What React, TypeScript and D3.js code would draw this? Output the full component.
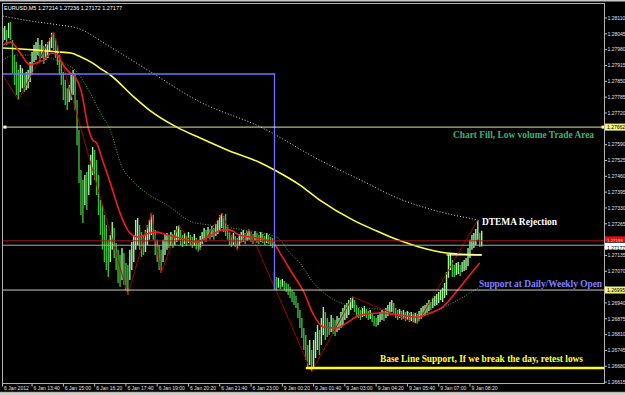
import React from "react";
import * as d3 from "d3";

// EURUSD M5 bars, index 1..246 (index 0 = 6 Jan 12:20)
const highs = [
  1.28069, 1.28077, 1.28061, 1.2809, 1.28094, 1.2802, 1.27958, 1.27929, 1.27897, 1.27917,
  1.27904, 1.27876, 1.27888, 1.27897, 1.27929, 1.2797, 1.27999, 1.28011, 1.28028, 1.27999,
  1.2802, 1.27995, 1.28003, 1.28011, 1.28028, 1.28049, 1.28053, 1.28028, 1.27999, 1.27958,
  1.27929, 1.27888, 1.27856, 1.27822, 1.27835, 1.27876, 1.27897, 1.27884, 1.27773, 1.2765,
  1.27486, 1.27445, 1.27465, 1.27478, 1.27507, 1.27548, 1.2758, 1.27568, 1.27527, 1.27465,
  1.27363, 1.27342, 1.27301, 1.2726, 1.27199, 1.27219, 1.27272, 1.27248, 1.27186, 1.27158,
  1.27137, 1.27166, 1.27145, 1.27104, 1.27096, 1.27158, 1.2719, 1.27219, 1.27281, 1.27289,
  1.2726, 1.27231, 1.27219, 1.2724, 1.2726, 1.27281, 1.27309, 1.27301, 1.2724, 1.27199,
  1.27178, 1.27158, 1.27199, 1.27219, 1.27227, 1.27215, 1.27231, 1.27223, 1.2724, 1.27256,
  1.2726, 1.2724, 1.27219, 1.27227, 1.27215, 1.27231, 1.27219, 1.27211, 1.27223, 1.27207,
  1.27199, 1.27215, 1.27231, 1.27248, 1.2724, 1.27252, 1.27244, 1.27256, 1.27248, 1.27264,
  1.27281, 1.27301, 1.27309, 1.27297, 1.27305, 1.2726, 1.27231, 1.27219, 1.27227, 1.27215,
  1.27207, 1.27223, 1.27231, 1.2724, 1.27227, 1.27235, 1.27244, 1.27231, 1.27223, 1.27235,
  1.27227, 1.27219, 1.27231, 1.27223, 1.27215, 1.27227, 1.27219, 1.27211, 1.27207, 1.27067,
  1.27047, 1.27043, 1.27034, 1.27038, 1.2703, 1.27022, 1.27018, 1.27006, 1.26993, 1.26985,
  1.26969, 1.2694, 1.26911, 1.26878, 1.26837, 1.26808, 1.26767, 1.26788, 1.26747, 1.26788,
  1.26821, 1.26849, 1.26829, 1.26878, 1.26923, 1.26903, 1.26878, 1.26862, 1.26891, 1.26878,
  1.2687, 1.26886, 1.26878, 1.26903, 1.26919, 1.26932, 1.2694, 1.26952, 1.2696, 1.26965,
  1.26952, 1.26932, 1.26919, 1.26911, 1.26919, 1.26927, 1.26915, 1.26907, 1.26911, 1.26899,
  1.26886, 1.26878, 1.26891, 1.26903, 1.26911, 1.26907, 1.26919, 1.26932, 1.26944, 1.26952,
  1.2694, 1.26919, 1.26911, 1.26915, 1.26907, 1.26911, 1.26903, 1.26907, 1.26899, 1.26903,
  1.26895, 1.26899, 1.26895, 1.26907, 1.26919, 1.26927, 1.26932, 1.2694, 1.26952, 1.26944,
  1.2696, 1.26969, 1.26977, 1.26985, 1.26993, 1.27002, 1.27022, 1.27067, 1.27137, 1.27145,
  1.27116, 1.27096, 1.27104, 1.27108, 1.27096, 1.27108, 1.27116, 1.27125, 1.27166, 1.27199,
  1.27219, 1.27227, 1.27244, 1.27281, 1.27227, 1.27236,
];
const lows = [
  1.28011, 1.2802, 1.27999, 1.28028, 1.2802, 1.27884, 1.27835, 1.27794, 1.27773, 1.27806,
  1.27822, 1.27806, 1.27814, 1.27822, 1.27847, 1.27876, 1.27929, 1.27938, 1.27958, 1.27929,
  1.27946, 1.27921, 1.27938, 1.27946, 1.2797, 1.27987, 1.27979, 1.27946, 1.27917, 1.27876,
  1.27835, 1.27773, 1.27753, 1.27732, 1.27765, 1.27773, 1.27794, 1.27732, 1.27588, 1.27433,
  1.27301, 1.27268, 1.27342, 1.27322, 1.27383, 1.27424, 1.27465, 1.27445, 1.27383, 1.27301,
  1.27219, 1.27158, 1.27108, 1.27075, 1.27047, 1.27108, 1.27158, 1.27125, 1.27075, 1.27022,
  1.27006, 1.27034, 1.27014, 1.26993, 1.26973, 1.27034, 1.27075, 1.27108, 1.27158, 1.27178,
  1.27158, 1.27129, 1.27137, 1.27149, 1.27178, 1.27199, 1.27219, 1.27199, 1.27137, 1.27108,
  1.27075, 1.27063, 1.27108, 1.27137, 1.27158, 1.27166, 1.27174, 1.27166, 1.27178, 1.2719,
  1.27199, 1.27178, 1.2717, 1.27182, 1.27174, 1.27186, 1.27178, 1.27166, 1.27174, 1.27158,
  1.27149, 1.27158, 1.27182, 1.27199, 1.2719, 1.27207, 1.27199, 1.27211, 1.27199, 1.27215,
  1.27223, 1.2724, 1.27248, 1.27231, 1.27215, 1.27199, 1.27178, 1.2717, 1.27178, 1.2717,
  1.27158, 1.27174, 1.27186, 1.2719, 1.27182, 1.27194, 1.27199, 1.2719, 1.27182, 1.27194,
  1.27186, 1.27182, 1.2719, 1.27186, 1.27178, 1.27186, 1.27182, 1.27174, 1.27166, 1.26993,
  1.26993, 1.27002, 1.26997, 1.27006, 1.26993, 1.26985, 1.26973, 1.2696, 1.26944, 1.26932,
  1.26919, 1.26878, 1.26837, 1.26796, 1.26747, 1.26706, 1.26673, 1.26685, 1.26657, 1.26673,
  1.26714, 1.26747, 1.26726, 1.26767, 1.26808, 1.26788, 1.268, 1.26808, 1.26821, 1.26813,
  1.26804, 1.26821, 1.26829, 1.26837, 1.26849, 1.2687, 1.26878, 1.26891, 1.26911, 1.26919,
  1.26903, 1.26886, 1.26878, 1.2687, 1.26882, 1.26886, 1.26878, 1.2687, 1.26874, 1.26862,
  1.26845, 1.26841, 1.26849, 1.26862, 1.2687, 1.26866, 1.26878, 1.26886, 1.26899, 1.26903,
  1.26891, 1.26878, 1.2687, 1.26878, 1.2687, 1.26874, 1.26866, 1.2687, 1.26862, 1.26866,
  1.26862, 1.26858, 1.26854, 1.26866, 1.26874, 1.26886, 1.26891, 1.26899, 1.26907, 1.26911,
  1.26919, 1.26927, 1.26932, 1.2694, 1.26952, 1.26944, 1.2696, 1.26973, 1.27043, 1.27075,
  1.27047, 1.27047, 1.27055, 1.27059, 1.27051, 1.27067, 1.27071, 1.27075, 1.27092, 1.27125,
  1.27158, 1.27166, 1.27178, 1.27199, 1.2717, 1.27172,
];
const firstBar = 1;

// Indicator lines: [bar index, price]
const emaYellow: [number, number][] = [
  [1, 1.27987], [17, 1.27979], [29, 1.27971], [36, 1.27966], [41, 1.2795], [47, 1.27925],
  [52, 1.27897], [56, 1.27876], [68, 1.27786], [76, 1.27732], [90, 1.27662], [102, 1.27617],
  [117, 1.27564], [133, 1.27515], [140, 1.27486], [153, 1.27424], [163, 1.27363], [180, 1.27281],
  [191, 1.2724], [203, 1.27199], [214, 1.2717], [228, 1.27145], [246, 1.27137],
];
const emaWhite: [number, number][] = [
  [1, 1.28118], [12, 1.28102], [30, 1.28081], [39, 1.28069], [56, 1.27991], [75, 1.27897],
  [102, 1.27765], [133, 1.27662], [163, 1.27527], [184, 1.27445], [204, 1.27367], [221, 1.27322],
  [244, 1.27281],
];
const bandGreen: [number, number][] = [
  [1, 1.27938], [7, 1.27958], [15, 1.27958], [32, 1.27925], [39, 1.27888], [44, 1.27827],
  [51, 1.2772], [56, 1.2765], [62, 1.27498], [67, 1.27445], [76, 1.27383], [85, 1.27342],
  [98, 1.27272], [107, 1.2726], [124, 1.2724], [141, 1.27211], [148, 1.27145], [153, 1.27104],
  [160, 1.27022], [168, 1.26965], [177, 1.26932], [187, 1.26919], [199, 1.26911], [211, 1.26899],
  [220, 1.26903], [231, 1.2694], [245, 1.27006],
];
const emaRed: [number, number][] = [
  [1, 1.27999], [5, 1.28011], [6, 1.28007], [10, 1.27966], [15, 1.27917], [18, 1.27925],
  [22, 1.27938], [26, 1.27966], [29, 1.27958], [31, 1.27929], [35, 1.27888], [38, 1.27868],
  [41, 1.27814], [45, 1.2765], [47, 1.27609], [49, 1.27597], [52, 1.27527], [56, 1.27433],
  [61, 1.27309], [66, 1.27227], [70, 1.27211], [76, 1.27227], [80, 1.27231], [85, 1.27219],
  [92, 1.27207], [100, 1.2719], [106, 1.27211], [114, 1.2724], [117, 1.2724], [122, 1.27219],
  [131, 1.27207], [139, 1.2719], [144, 1.27129], [149, 1.27063], [155, 1.26985], [160, 1.26891],
  [165, 1.26841], [172, 1.26837], [177, 1.26858], [184, 1.26891], [194, 1.26899], [203, 1.26891],
  [213, 1.26882], [220, 1.26899], [226, 1.26923], [235, 1.27006], [242, 1.27075], [245, 1.27104],
];
const zigzag: [number, number][] = [
  [1, 1.27876], [9, 1.27773], [27, 1.28053], [65, 1.26973], [77, 1.27309], [82, 1.27063],
  [91, 1.2726], [101, 1.27149], [113, 1.27309], [121, 1.27158], [127, 1.27244], [159, 1.26657],
  [180, 1.26965], [213, 1.26854], [244, 1.27281],
];

// Horizontal objects
const fillLevel = 1.27662;
const redLevel = 1.27195;
const bidLevel = 1.27177;
const dailyOpen = 1.26993;
const prevOpen = 1.2788;
const baseLine = 1.26673;
const shortLevel = 1.27137;
const dayStartBar = 140;

const priceTicks = [
  "1.28110", "1.28045", "1.27980", "1.27915", "1.27850", "1.27785", "1.27720", "1.27655",
  "1.27590", "1.27525", "1.27460", "1.27395", "1.27330", "1.27265", "1.27200", "1.27135",
  "1.27070", "1.27005", "1.26940", "1.26875", "1.26810", "1.26745", "1.26680", "1.26615",
];
const timeLabels = [
  "6 Jan 2012", "6 Jan 13:40", "6 Jan 15:00", "6 Jan 16:20", "6 Jan 17:40", "6 Jan 19:00",
  "6 Jan 20:20", "6 Jan 21:40", "6 Jan 23:00", "9 Jan 00:20", "9 Jan 01:40", "9 Jan 03:00",
  "9 Jan 04:20", "9 Jan 05:40", "9 Jan 07:00", "9 Jan 08:20",
];
const timeLabelBars = [0, 16, 32, 48, 64, 80, 96, 112, 128, 144, 160, 176, 192, 208, 224, 240];

export default function App() {
  const W = 625, H = 395;
  const L = 2.5, R = 604.5, T = 3.5, B = 383.5;
  const x = d3.scaleLinear().domain([0, 246]).range([0.8, 481.7]);
  const y = d3.scaleLinear().domain([1.26615, 1.2811]).range([382.1, 18]);
  const curve = d3.line<[number, number]>().x((d) => x(d[0])).y((d) => y(d[1])).curve(d3.curveMonotoneX);
  const straight = d3.line<[number, number]>().x((d) => x(d[0])).y((d) => y(d[1]));
  const sans = "'Liberation Sans', Arial, sans-serif";
  const serif = "'Liberation Serif', 'Times New Roman', serif";

  const bars = highs.map((h, k) => {
    const l = lows[k];
    const mid = (h + l) / 2;
    const prevMid = k > 0 ? (highs[k - 1] + lows[k - 1]) / 2 : mid;
    return { i: k + firstBar, h, l, up: mid >= prevMid };
  });

  // highlighted price-axis labels (box offset/height so neighbours don't collide)
  const hl = [
    { p: fillLevel, color: "#e4e4a4", bg: "#f4f480", fg: "#000", text: "1.27662", dy: 0, top: -3.5, h: 7 },
    { p: redLevel, color: "#b01818", bg: "#e01010", fg: "#ffd0d0", text: "1.27195", dy: -0.6, top: -4.5, h: 5.5 },
    { p: bidLevel, color: "#a8a8a8", bg: "#ffffff", fg: "#000", text: "1.27177", dy: 2.6, top: -2.5, h: 7 },
    { p: dailyOpen, color: "#cfcfb0", bg: "#f4f480", fg: "#000", text: "1.26995", dy: 0, top: -3.5, h: 7 },
  ];
  const visibleTicks = priceTicks.filter((t) => hl.every((h) => Math.abs(y(+t) - y(h.p)) > 6));

  return (
    <svg width={W} height={H} style={{ position: "absolute", left: 0, top: 0, display: "block", background: "#000" }}>
      <defs>
        <clipPath id="plot">
          <rect x={L} y={T} width={R - L} height={B - T} />
        </clipPath>
      </defs>
      <rect x={0} y={0} width={W} height={H} fill="#000" />
      <rect x={0} y={0} width={W} height={1.5} fill="#c8c8c8" />

      <g clipPath="url(#plot)">
        {/* bars */}
        {bars.map((b) => (
          <line key={b.i} x1={x(b.i)} x2={x(b.i)} y1={y(b.h)} y2={y(b.l)}
            stroke={b.up ? "#9ef59a" : "#3cba3c"} strokeWidth={1.4} />
        ))}
        {/* indicators */}
        <path d={curve(emaWhite) || ""} fill="none" stroke="#d8d8d8" strokeWidth={1} strokeDasharray="1,2" />
        <path d={curve(bandGreen) || ""} fill="none" stroke="#41b041" strokeWidth={1} strokeDasharray="1,1.6" />
        <path d={curve(emaYellow) || ""} fill="none" stroke="#ffff3c" strokeWidth={1.6} />
        <path d={straight(zigzag) || ""} fill="none" stroke="#b40000" strokeWidth={0.9} />
        <path d={curve(emaRed) || ""} fill="none" stroke="#ee1c1c" strokeWidth={1.6} />

        {/* horizontal objects */}
        <path d={`M${L},${y(prevOpen)}H${x(dayStartBar)}V${y(dailyOpen)}`} fill="none" stroke="#7070ff" strokeWidth={1.3} />
        {hl.map((h) => (
          <line key={h.text} x1={L} x2={R} y1={y(h.p)} y2={y(h.p)} stroke={h.color} strokeWidth={1} />
        ))}
        <line x1={x(228)} x2={x(246)} y1={y(shortLevel)} y2={y(shortLevel)} stroke="#ffffc8" strokeWidth={1.3} />
        <line x1={x(156)} x2={R} y1={y(baseLine)} y2={y(baseLine)} stroke="#ffff00" strokeWidth={2.6} />
        <rect x={L + 1} y={y(fillLevel) - 1.5} width={3} height={3} fill="#ffffc0" />
        <rect x={R - 3} y={y(fillLevel) - 1.5} width={3} height={3} fill="#ffff80" />
      </g>

      {/* annotations */}
      <text x={453} y={138} fontFamily={serif} fontWeight="bold" fontSize={10} fill="#3cb371"
        textLength={141} lengthAdjust="spacingAndGlyphs">Chart Fill, Low volume Trade Area</text>
      <text x={482} y={225} fontFamily={serif} fontWeight="bold" fontSize={10} fill="#ffffff"
        textLength={75} lengthAdjust="spacingAndGlyphs">DTEMA Rejection</text>
      <text x={479} y={287} fontFamily={serif} fontWeight="bold" fontSize={10} fill="#8080ff"
        textLength={123} lengthAdjust="spacingAndGlyphs">Support at Daily/Weekly Open</text>
      <text x={380} y={362} fontFamily={serif} fontWeight="bold" fontSize={10} fill="#ffff33"
        textLength={203} lengthAdjust="spacingAndGlyphs">Base Line Support, If we break the day, retest lows</text>

      {/* title */}
      <text x={4} y={9.5} fontFamily={sans} fontSize={5.5} fill="#ffffff">EURUSD,M5  1.27214 1.27236 1.27172 1.27177</text>

      {/* frame */}
      <rect x={L} y={T} width={R - L} height={B - T} fill="none" stroke="#b0b0b0" strokeWidth={1} />

      {/* price axis */}
      {priceTicks.map((t) => (
        <line key={"tk" + t} x1={R} x2={R + 2.5} y1={y(+t)} y2={y(+t)} stroke="#c0c0c0" strokeWidth={1} />
      ))}
      {visibleTicks.map((t) => (
        <text key={t} x={607.5} y={y(+t) + 1.8} fontFamily={sans} fontSize={5} fill="#e0e0e0">{t}</text>
      ))}
      {hl.map((h) => {
        const yy = y(h.p);
        return (
          <g key={"lab" + h.text}>
            <rect x={605} y={yy + h.top} width={20} height={h.h} fill={h.bg} />
            <text x={607} y={yy + 1.8 + h.dy} fontFamily={sans} fontSize={h.h < 6 ? 4.4 : 5} fill={h.fg}>{h.text}</text>
          </g>
        );
      })}

      {/* time axis */}
      {timeLabels.map((t, k) => {
        const xx = Math.max(x(timeLabelBars[k]), L);
        return (
          <g key={t}>
            <line x1={xx} x2={xx} y1={B} y2={B + 3} stroke="#c0c0c0" strokeWidth={1} />
            <text x={xx + 1.5} y={389.5} fontFamily={sans} fontSize={5} fill="#e0e0e0">{t}</text>
          </g>
        );
      })}

      {/* window tab strip */}
      <rect x={0} y={392} width={W} height={3} fill="#d4d0c8" />
      <line x1={0} x2={W} y1={392} y2={392} stroke="#808080" strokeWidth={0.6} />
    </svg>
  );
}
